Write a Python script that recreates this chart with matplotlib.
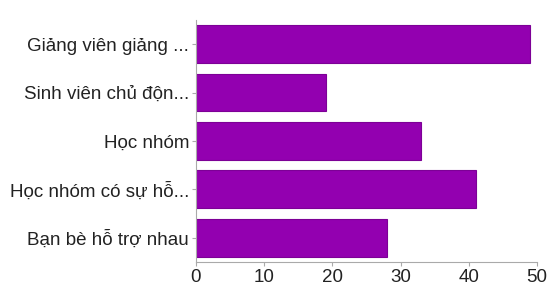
import matplotlib
matplotlib.use("Agg")
import matplotlib.pyplot as plt

categories = ["Giảng viên giảng ...", "Sinh viên chủ độn...", "Học nhóm",
              "Học nhóm có sự hỗ...", "Bạn bè hỗ trợ nhau"]
values = [49, 19, 33, 41, 28]
xticks = [0, 10, 20, 30, 40, 50]

plt.rcParams['font.family'] = ['Liberation Sans', 'DejaVu Sans']

fig = plt.figure(figsize=(5.49, 2.85), dpi=100)
ax = fig.add_axes([0.357, 0.081, 0.621, 0.849])
y = list(range(len(categories)))
ax.barh(y, values, height=0.78, color='#9300b0', edgecolor='#7d0096', linewidth=0.8)
ax.set_yticks(y)
ax.set_yticklabels(categories, fontsize=13.5, color='#222222')
ax.invert_yaxis()
ax.set_ylim(4.5, -0.5)
ax.set_xlim(0, 50)
ax.set_xticks(xticks)
ax.set_xticklabels([str(t) for t in xticks], fontsize=13.5, color='#222222')
for s in ['top', 'right']:
    ax.spines[s].set_visible(False)
for s in ['left', 'bottom']:
    ax.spines[s].set_color('#aaaaaa')
    ax.spines[s].set_linewidth(0.8)
ax.tick_params(axis='both', colors='#aaaaaa', labelcolor='#222222', length=3, width=0.8, pad=2)
fig.savefig("out.png", dpi=100)
